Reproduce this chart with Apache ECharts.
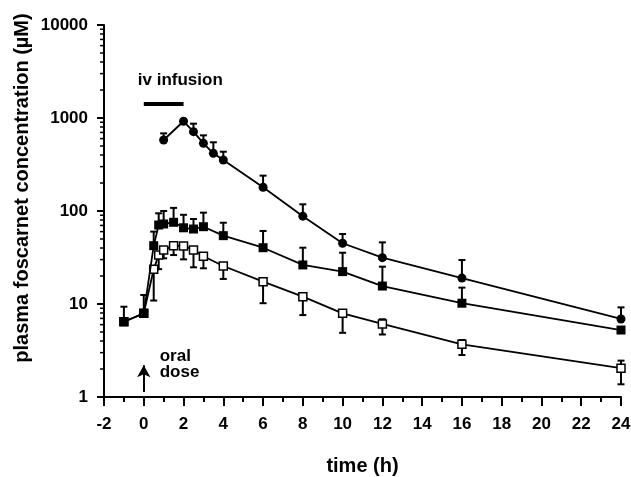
<!DOCTYPE html>
<html>
<head>
<meta charset="utf-8">
<script src="https://cdn.jsdelivr.net/npm/echarts@6/dist/echarts.min.js"></script>
<style>
	html, body { margin: 0; padding: 0; background: #fff; }
	#chart { width: 631px; height: 477px; }
</style>
</head>
<body>
<div id="chart"></div>
<script>
// iv infusion (filled circles), upper SD only
const ivTime = [1, 2, 2.5, 3, 3.5, 4, 6, 8, 10, 12, 16, 24]
const ivConc = [580, 922, 713, 534, 417, 353, 180, 88, 45, 31.5, 19, 6.9]
const ivUpper = [684, 922, 869, 651, 548, 434, 240, 118, 56.6, 46, 29.7, 9.2]

// oral dose, filled squares, upper SD only
const filledTime = [-1, 0, 0.5, 0.75, 1, 1.5, 2, 2.5, 3, 4, 6, 8, 10, 12, 16, 24]
const filledConc = [6.45, 7.94, 42.4, 70.7, 72.5, 75.6, 66, 64, 67.8, 54.3, 40.3, 26.3, 22.3, 15.6, 10.2, 5.25]
const filledUpper = [9.35, 12.5, 60, 94.5, 100, 108, 91, 82, 96, 74.8, 61, 40.3, 35.6, 25.2, 15, 5.25]

// oral dose, open squares, SD mostly below
const openTime = [-1, 0, 0.5, 0.75, 1, 1.5, 2, 2.5, 3, 4, 6, 8, 10, 12, 16, 24]
const openConc = [6.45, 7.94, 23.6, 33.6, 38, 42.4, 42, 38.1, 32.6, 25.6, 17.4, 12.0, 7.94, 6.1, 3.69, 2.04]
const openLower = [6.45, 7.94, 10.9, 23.7, 31, 33.6, 30.2, 24.8, 24.2, 18.6, 10.2, 7.6, 4.9, 4.7, 2.83, 1.37]
const openUpper = [6.45, 7.94, 23.6, 33.6, 38, 42.4, 42, 38.1, 32.6, 25.6, 17.4, 12.0, 7.94, 6.85, 4.1, 2.46]

const yTicks = [1, 10, 100, 1000, 10000]
const infusion = [[0, 1413], [2, 1413]]

const font = 'Liberation Sans'
const chart = echarts.init(document.getElementById('chart'))

const minorY = []
for (let k = 0; k < 4; k++) {
	for (let m = 2; m < 10; m++) minorY.push([-2, m * Math.pow(10, k)])
}

const pairs = (xs, ys) => xs.map((x, i) => [x, ys[i]])
const errData = (xs, c, lo, hi) => xs.map((x, i) => [x, c[i], lo[i], hi[i]])

const renderErr = (params, api) => {
	const x = api.value(0)
	const c = api.coord([x, api.value(1)])
	const lo = api.coord([x, api.value(2)])
	const hi = api.coord([x, api.value(3)])
	const cap = 3.5
	const style = { stroke: '#000', lineWidth: 2 }
	const children = []
	if (hi[1] < c[1] - 1) {
		children.push({ type: 'line', shape: { x1: c[0], y1: c[1], x2: hi[0], y2: hi[1] }, style })
		children.push({ type: 'line', shape: { x1: hi[0] - cap, y1: hi[1], x2: hi[0] + cap, y2: hi[1] }, style })
	}
	if (lo[1] > c[1] + 1) {
		children.push({ type: 'line', shape: { x1: c[0], y1: c[1], x2: lo[0], y2: lo[1] }, style })
		children.push({ type: 'line', shape: { x1: lo[0] - cap, y1: lo[1], x2: lo[0] + cap, y2: lo[1] }, style })
	}
	return { type: 'group', children }
}

const errSeries = (data) => ({
	type: 'custom',
	renderItem: renderErr,
	data,
	z: 1,
	silent: true,
	encode: { x: 0, y: [1, 2, 3] },
})

const textLabel = {
	show: true,
	position: 'right',
	distance: 0,
	color: '#000',
	opacity: 1,
	fontFamily: font,
	fontWeight: 'bold',
	fontSize: 17,
}

const options = {
	animation: false,
	grid: { left: 104, right: 10, top: 25, bottom: 80, outerBoundsMode: 'none' },
	xAxis: {
		type: 'value',
		min: -2,
		max: 24,
		interval: 2,
		splitLine: { show: false },
		axisLine: { onZero: false, lineStyle: { color: '#000', width: 2 } },
		axisTick: { length: 9, lineStyle: { color: '#000', width: 2 } },
		minorTick: { show: true, splitNumber: 2, length: 5, lineStyle: { color: '#000', width: 2 } },
		axisLabel: { color: '#000', fontFamily: font, fontWeight: 'bold', fontSize: 17, margin: 19 },
		name: 'time (h)',
		nameLocation: 'middle',
		nameGap: 59,
		nameTextStyle: { color: '#000', fontFamily: font, fontWeight: 'bold', fontSize: 20 },
	},
	yAxis: {
		type: 'log',
		logBase: 10,
		min: yTicks[0],
		max: yTicks[yTicks.length - 1],
		splitLine: { show: false },
		axisLine: { onZero: false, lineStyle: { color: '#000', width: 2 } },
		axisTick: { length: 7, lineStyle: { color: '#000', width: 2 } },
		axisLabel: {
			color: '#000',
			fontFamily: font,
			fontWeight: 'bold',
			fontSize: 17,
			margin: 16,
			formatter: (v) => String(Math.round(v)),
		},
	},
	graphic: [
		{
			type: 'text',
			x: 22,
			y: 188,
			rotation: Math.PI / 2,
			style: {
				text: 'plasma foscarnet concentration (µM)',
				font: 'bold 20px ' + font,
				fill: '#000',
				align: 'center',
				verticalAlign: 'middle',
			},
		},
	],
	series: [
		// minor log ticks on y axis
		{
			type: 'custom',
			silent: true,
			data: minorY,
			renderItem: (params, api) => {
				const p = api.coord([api.value(0), api.value(1)])
				return {
					type: 'line',
					shape: { x1: p[0], y1: p[1], x2: p[0] - 4, y2: p[1] },
					style: { stroke: '#000', lineWidth: 1.5 },
				}
			},
			clip: false,
		},
		errSeries(errData(openTime, openConc, openLower, openUpper)),
		errSeries(errData(filledTime, filledConc, filledConc, filledUpper)),
		errSeries(errData(ivTime, ivConc, ivConc, ivUpper)),
		{
			type: 'line',
			data: pairs(openTime, openConc),
			symbol: 'rect',
			symbolSize: 8,
			z: 3,
			lineStyle: { color: '#000', width: 1.8 },
			itemStyle: { color: '#fff', borderColor: '#000', borderWidth: 1.5 },
		},
		{
			type: 'line',
			data: pairs(filledTime, filledConc),
			symbol: 'rect',
			symbolSize: 9,
			z: 4,
			lineStyle: { color: '#000', width: 1.8 },
			itemStyle: { color: '#000' },
		},
		{
			type: 'line',
			data: pairs(ivTime, ivConc),
			symbol: 'circle',
			symbolSize: 9,
			z: 4,
			lineStyle: { color: '#000', width: 1.8 },
			itemStyle: { color: '#000' },
		},
		// infusion bar + oral dose arrow
		{
			type: 'line',
			data: infusion,
			symbol: 'none',
			silent: true,
			lineStyle: { color: '#000', width: 4 },
			markLine: {
				silent: true,
				symbol: ['none', 'arrow'],
				symbolSize: [10, 12],
				label: { show: false },
				lineStyle: { color: '#000', width: 2, type: 'solid' },
				data: [[{ coord: [0, 1.13] }, { coord: [0, 2.2] }]],
			},
		},
		// text annotations
		{
			type: 'scatter',
			silent: true,
			symbolSize: 0,
			itemStyle: { color: '#000', opacity: 1 },
			data: [
				{ value: [-0.3, 2550], label: { ...textLabel, formatter: 'iv infusion' } },
				{ value: [0.8, 2.24], label: { ...textLabel, formatter: 'oral\ndose', lineHeight: 16 } },
			],
			label: textLabel,
		},
	],
}

chart.setOption(options)
</script>
</body>
</html>
